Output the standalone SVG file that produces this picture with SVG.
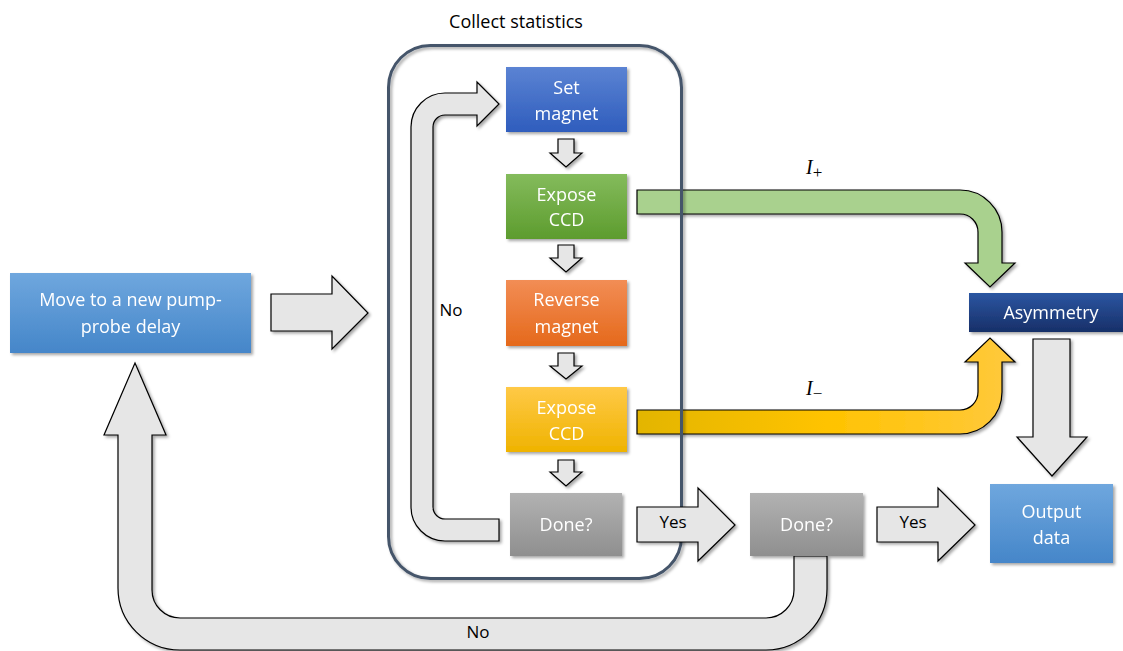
<svg xmlns="http://www.w3.org/2000/svg" width="1123" height="651" viewBox="0 0 1123 651">
<defs>
<filter id="sh" x="-20%" y="-20%" width="140%" height="140%"><feDropShadow dx="2" dy="2" stdDeviation="1.8" flood-color="#000" flood-opacity="0.35"/></filter>
<linearGradient id="gBlue" x1="0" y1="0" x2="0" y2="1"><stop offset="0" stop-color="#5b83d3"/><stop offset="1" stop-color="#2f5dbd"/></linearGradient>
<linearGradient id="gGreen" x1="0" y1="0" x2="0" y2="1"><stop offset="0" stop-color="#84bb5c"/><stop offset="1" stop-color="#5d9c2e"/></linearGradient>
<linearGradient id="gOrange" x1="0" y1="0" x2="0" y2="1"><stop offset="0" stop-color="#f28d55"/><stop offset="1" stop-color="#e5691b"/></linearGradient>
<linearGradient id="gYellow" x1="0" y1="0" x2="0" y2="1"><stop offset="0" stop-color="#ffc947"/><stop offset="1" stop-color="#efb300"/></linearGradient>
<linearGradient id="gGray" x1="0" y1="0" x2="0" y2="1"><stop offset="0" stop-color="#b2b2b2"/><stop offset="1" stop-color="#8f8f8f"/></linearGradient>
<linearGradient id="gSky" x1="0" y1="0" x2="0" y2="1"><stop offset="0" stop-color="#6fa7de"/><stop offset="1" stop-color="#4586c9"/></linearGradient>
<linearGradient id="gNavy" x1="0" y1="0" x2="0" y2="1"><stop offset="0" stop-color="#2c56a2"/><stop offset="1" stop-color="#172f68"/></linearGradient>
<linearGradient id="gYArrow" x1="637" y1="0" x2="1015" y2="0" gradientUnits="userSpaceOnUse"><stop offset="0" stop-color="#e3b500"/><stop offset="0.5" stop-color="#ffc300"/><stop offset="1" stop-color="#ffc93d"/></linearGradient>
</defs>
<style>
.box{filter:url(#sh)}
.bt{font-family:"Open Sans","Liberation Sans",sans-serif;font-size:18px;fill:#fff;text-anchor:middle}
.lb{font-family:"Open Sans","Liberation Sans",sans-serif;font-size:17px;fill:#000;text-anchor:middle}
.title{font-family:"Open Sans","Liberation Sans",sans-serif;font-size:18px;fill:#000;text-anchor:middle}
.ar{fill:#e6e6e6;stroke:#000;stroke-width:1.2;stroke-linejoin:miter;filter:url(#sh)}
.math{font-family:"Liberation Serif","DejaVu Serif",serif;font-size:20px;fill:#000}
</style>

<text class="title" x="516" y="28">Collect statistics</text>

<g id="connectors">
<path class="ar" d="M 271 294 L 332 294 L 332 276 L 368 313 L 332 349 L 332 331 L 271 331 Z"/>
<path class="ar" d="M 499 519 L 445 519 A 12 12 0 0 1 433 507 L 433 127 A 12 12 0 0 1 445 115 L 477 115 L 477 126 L 499 104 L 477 82 L 477 93 L 445 93 A 34 34 0 0 0 411 127 L 411 507 A 34 34 0 0 0 445 541 L 499 541 Z"/>
<path class="ar" d="M 558 139 L 574 139 L 574 153 L 582 153 L 566 167 L 550 153 L 558 153 Z"/>
<path class="ar" d="M 558 245 L 574 245 L 574 258 L 582 258 L 566 272 L 550 258 L 558 258 Z"/>
<path class="ar" d="M 558 353 L 574 353 L 574 366 L 582 366 L 566 379 L 550 366 L 558 366 Z"/>
<path class="ar" d="M 558 460 L 574 460 L 574 472 L 582 472 L 566 486 L 550 472 L 558 472 Z"/>
<path fill="#a9d18e" stroke="#000" stroke-width="1.2" filter="url(#sh)" d="M 637 190 L 960 190 A 42 42 0 0 1 1002 232 L 1002 263 L 1015 263 L 990 287 L 965 263 L 978 263 L 978 232 A 18 18 0 0 0 960 214 L 637 214 Z"/>
<path fill="url(#gYArrow)" stroke="#000" stroke-width="1.2" filter="url(#sh)" d="M 637 434 L 960 434 A 42 42 0 0 0 1002 392 L 1002 362 L 1015 362 L 990 338 L 965 362 L 978 362 L 978 392 A 18 18 0 0 1 960 410 L 637 410 Z"/>
<path class="ar" d="M 877 507 L 938 507 L 938 488 L 975 525 L 938 561 L 938 542 L 877 542 Z"/>
<path class="ar" d="M 1033 339 L 1070 339 L 1070 437 L 1087 437 L 1052 476 L 1017 437 L 1033 437 Z"/>
<path class="ar" d="M 794 556 L 794 590 A 28 28 0 0 1 766 618 L 180 618 A 28 28 0 0 1 152 590 L 152 435 L 166 435 L 135 363 L 104 435 L 118 435 L 118 588 A 62 62 0 0 0 180 650 L 766 650 A 61 61 0 0 0 827 589 L 827 556 Z"/>
<text class="lb" x="451" y="316">No</text>
<text class="lb" x="478" y="638">No</text>
<text class="lb" x="913" y="528">Yes</text>
<text class="math" x="806" y="174" font-style="italic">I<tspan font-style="normal" font-size="17" dy="4">+</tspan></text>
<text class="math" x="806" y="395" font-style="italic">I<tspan font-style="normal" font-size="17" dy="4">−</tspan></text>
</g>

<g id="container">
<rect x="388.5" y="45.5" width="293" height="533" rx="42" ry="42" fill="none" stroke="#44546a" stroke-width="3" filter="url(#sh)"/>
</g>

<g id="yes-connector">
<path class="ar" d="M 637 507 L 698 507 L 698 488 L 735 525 L 698 561 L 698 542 L 637 542 Z"/>
<text class="lb" x="673" y="528">Yes</text>
</g>

<g id="move" class="box"><rect x="10" y="273" width="241" height="80" fill="url(#gSky)"/>
<text class="bt" x="130.5" y="306">Move to a new pump-</text><text class="bt" x="130.5" y="333">probe delay</text></g>

<g id="set-magnet" class="box"><rect x="506" y="67" width="121" height="65" fill="url(#gBlue)"/>
<text class="bt" x="566.5" y="94">Set</text><text class="bt" x="566.5" y="120">magnet</text></g>

<g id="expose-plus" class="box"><rect x="506" y="174" width="121" height="65" fill="url(#gGreen)"/>
<text class="bt" x="566.5" y="201">Expose</text><text class="bt" x="566.5" y="226">CCD</text></g>

<g id="reverse-magnet" class="box"><rect x="506" y="280" width="121" height="66" fill="url(#gOrange)"/>
<text class="bt" x="566.5" y="306">Reverse</text><text class="bt" x="566.5" y="333">magnet</text></g>

<g id="expose-minus" class="box"><rect x="506" y="387" width="121" height="65" fill="url(#gYellow)"/>
<text class="bt" x="566.5" y="414">Expose</text><text class="bt" x="566.5" y="440">CCD</text></g>

<g id="done1" class="box"><rect x="510" y="493" width="112" height="63" fill="url(#gGray)"/>
<text class="bt" x="566" y="531">Done?</text></g>

<g id="done2" class="box"><rect x="750" y="493" width="113" height="63" fill="url(#gGray)"/>
<text class="bt" x="806.5" y="531">Done?</text></g>

<g id="asymmetry" class="box"><rect x="969" y="293" width="156" height="39" fill="url(#gNavy)"/>
<text class="bt" x="1051" y="319">Asymmetry</text></g>

<g id="output" class="box"><rect x="990" y="484" width="123" height="79" fill="url(#gSky)"/>
<text class="bt" x="1051.5" y="518">Output</text><text class="bt" x="1051.5" y="544">data</text></g>
</svg>
